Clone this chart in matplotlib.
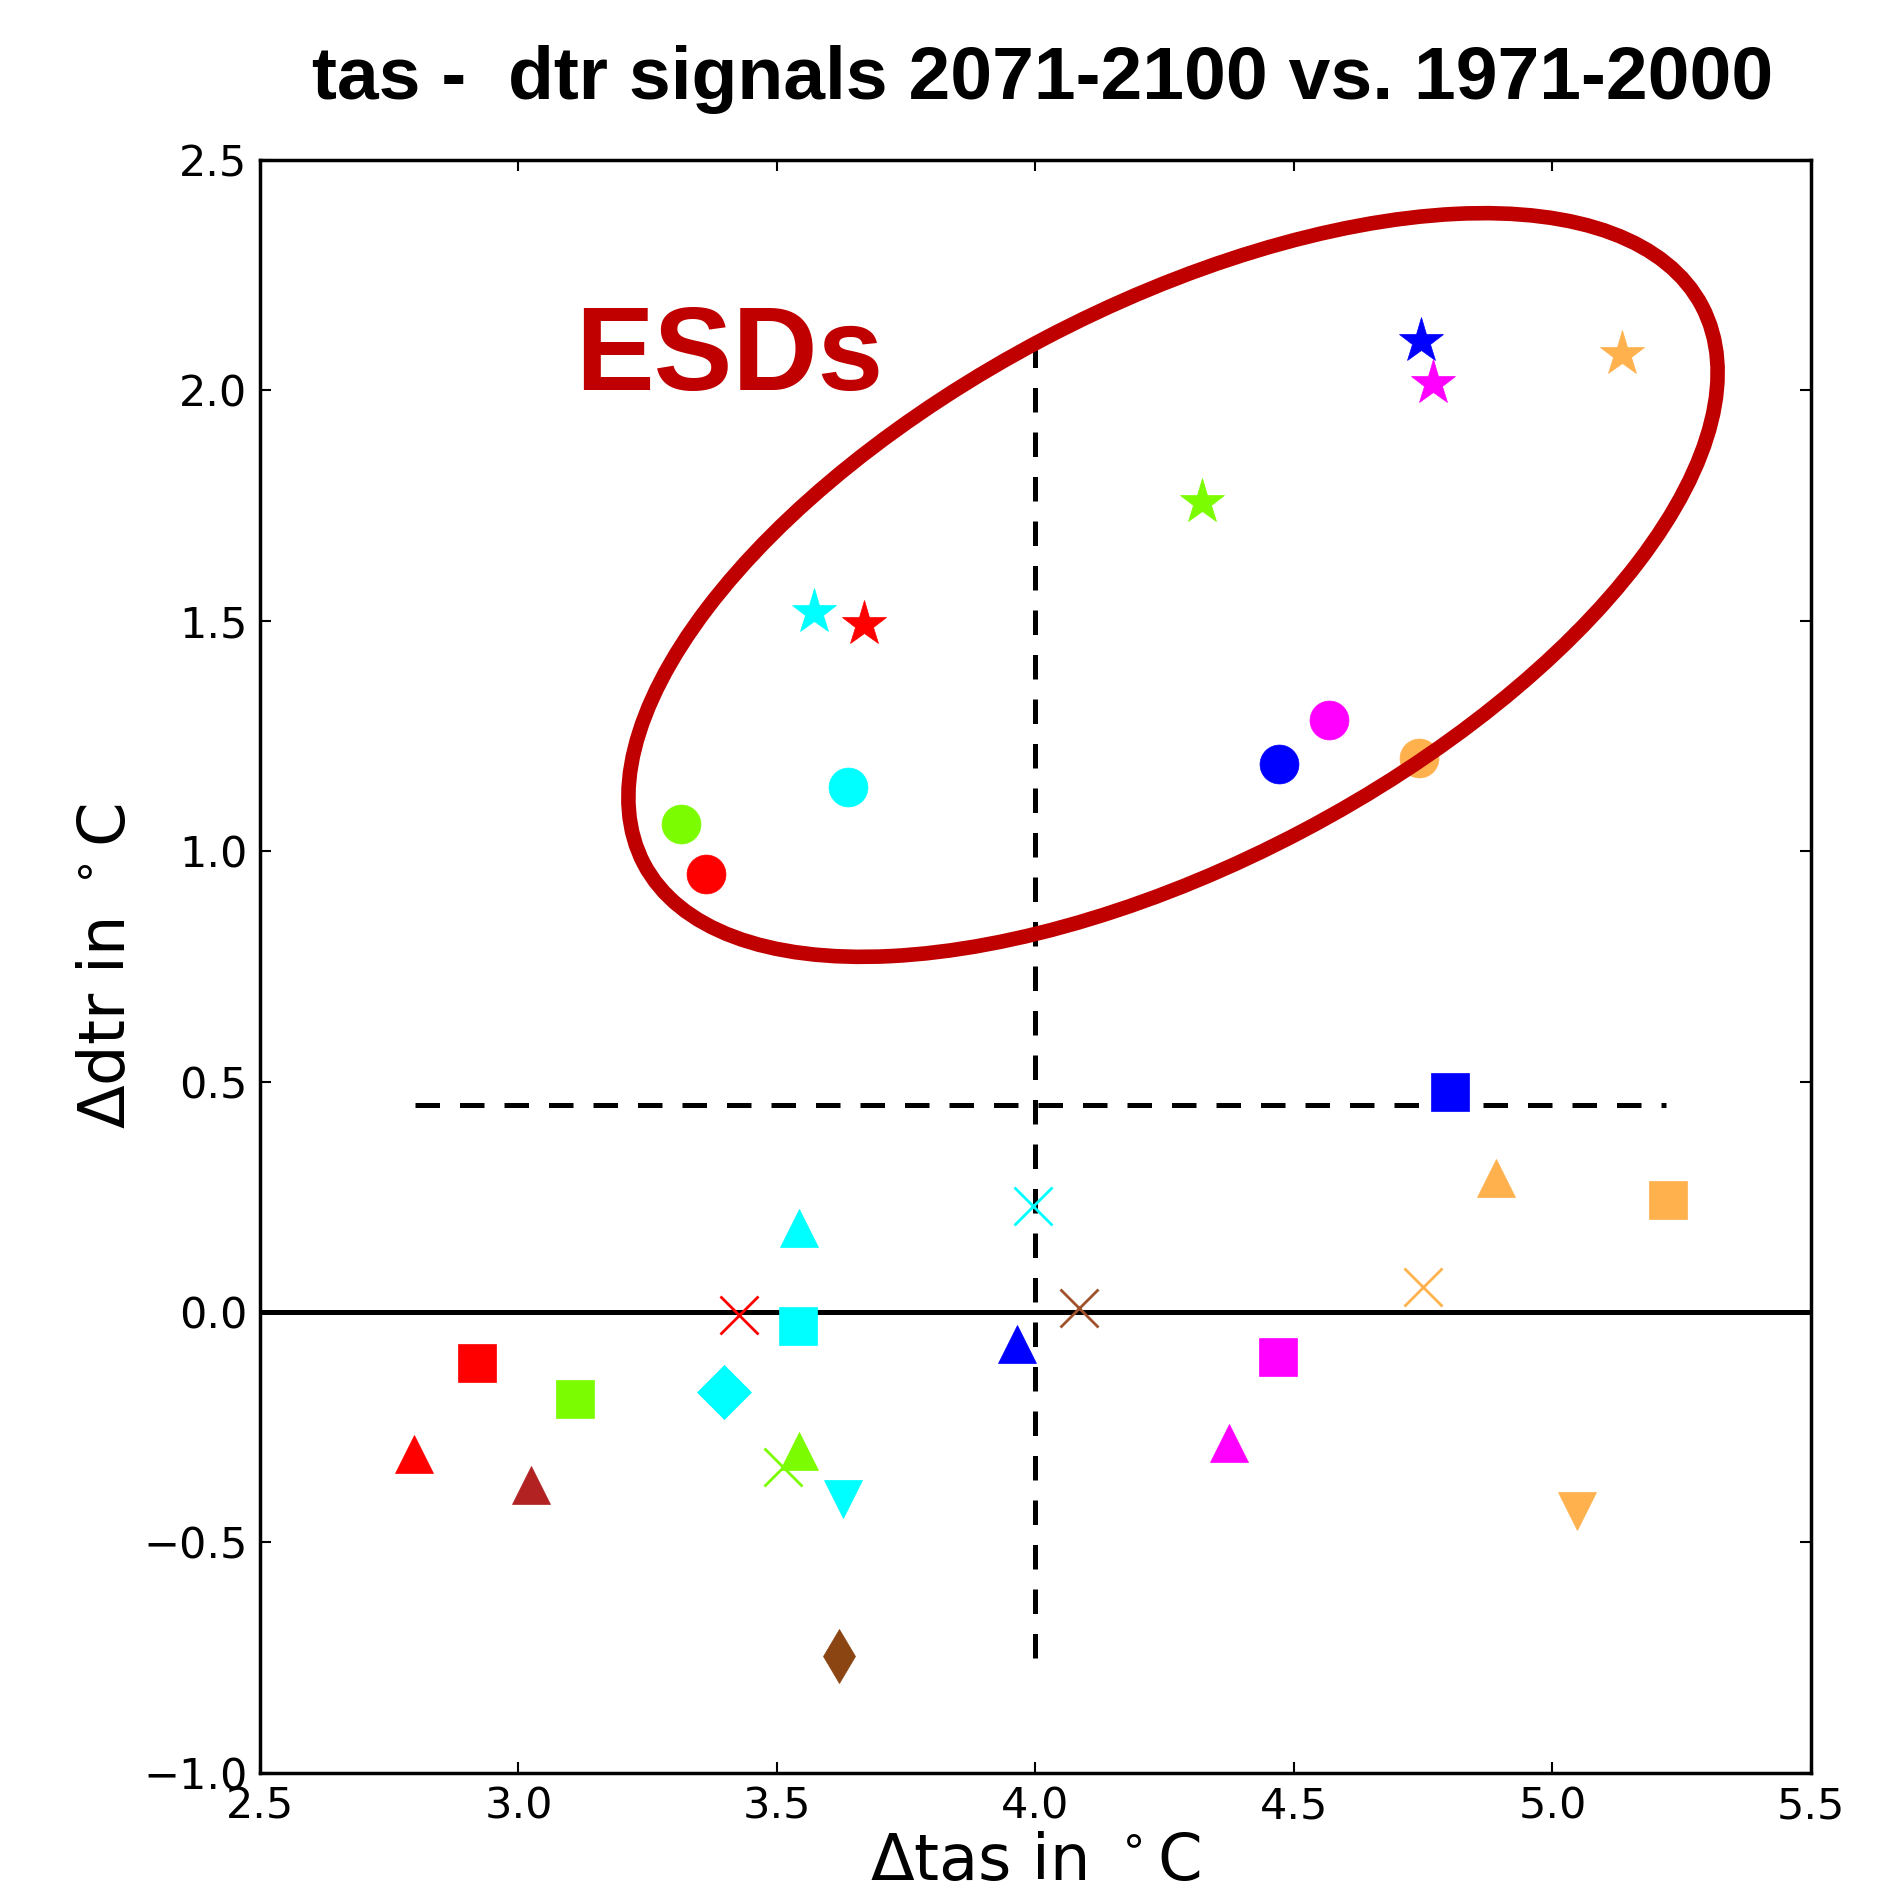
import matplotlib
matplotlib.use("Agg")
import matplotlib.pyplot as plt
import numpy as np
from matplotlib.patches import Ellipse
from matplotlib.transforms import IdentityTransform

# values (delta tas, delta dtr) per model run
tas = [3.572, 3.668, 4.322, 4.746, 4.768, 5.134,          # stars (ESD)
       3.314, 3.363, 3.638, 4.471, 4.568, 4.742,          # circles (ESD)
       2.919, 3.109, 3.540, 4.469, 4.801, 5.224,          # squares
       2.798, 3.025, 3.542, 3.542, 3.965, 4.375, 4.891,   # triangles up
       3.627, 5.048,                                      # triangles down
       3.397, 3.620,                                      # diamonds
       3.427, 3.512, 3.996, 4.085, 4.750]                 # crosses
dtr = [1.519, 1.494, 1.757, 2.107, 2.016, 2.080,
       1.059, 0.951, 1.139, 1.189, 1.285, 1.202,
       -0.110, -0.190, -0.030, -0.098, 0.477, 0.244,
       -0.308, -0.376, 0.183, -0.302, -0.070, -0.284, 0.291,
       -0.405, -0.433,
       -0.173, -0.747,
       -0.006, -0.337, 0.229, 0.009, 0.054]
markers = ["*"] * 6 + ["o"] * 6 + ["s"] * 6 + ["^"] * 7 + ["v"] * 2 + ["D", "d"] + ["x"] * 5
colors = ["#00ffff", "#ff0000", "#7cfc00", "#0000ff", "#ff00ff", "#ffb14e",
          "#7cfc00", "#ff0000", "#00ffff", "#0000ff", "#ff00ff", "#ffb14e",
          "#ff0000", "#7cfc00", "#00ffff", "#ff00ff", "#0000ff", "#ffb14e",
          "#ff0000", "#b22222", "#00ffff", "#7cfc00", "#0000ff", "#ff00ff", "#ffb14e",
          "#00ffff", "#ffb14e",
          "#00ffff", "#8b4513",
          "#ff0000", "#7cfc00", "#00ffff", "#a0522d", "#ffb14e"]

# reference lines
tas_ref = 4.0
tas_ref_span = [-0.75, 2.1]
dtr_ref = 0.45
dtr_ref_span = [2.8, 5.22]

W, H = 1897, 1892
fig = plt.figure(figsize=(W / 100, H / 100), dpi=100)
ax = fig.add_axes([260 / W, 1 - 1772.7 / H, (1811 - 260) / W, (1772.7 - 160) / H])

ax.axhline(0.0, color="black", lw=3.6, zorder=1)
ax.plot([tas_ref, tas_ref], tas_ref_span, color="black", lw=3.6,
        linestyle=(0, (4.9, 4.0)), zorder=1)
ax.plot(dtr_ref_span, [dtr_ref, dtr_ref], color="black", lw=3.6,
        linestyle=(0, (4.9, 4.0)), zorder=1)

for x, y, m, c in zip(tas, dtr, markers, colors):
    if m == "x":
        ax.plot(x, y, m, color=c, ms=28, mew=2.0, zorder=3)
    elif m == "*":
        ax.plot(x, y, m, color=c, ms=34, mew=0.5, mec=c, zorder=3)
    else:
        ax.plot(x, y, m, color=c, ms=28, mew=0.5, mec=c, zorder=3)

ax.set_xlim(2.5, 5.5)
ax.set_ylim(-1.0, 2.5)
ax.set_xticks(np.arange(2.5, 5.51, 0.5))
ax.set_yticks(np.arange(-1.0, 2.51, 0.5))
ax.tick_params(direction="in", length=8, width=1.5, top=True, right=True,
               labelsize=31, pad=9)
for s in ax.spines.values():
    s.set_linewidth(2.5)

ax.set_xlabel(r"$\Delta$tas in $^\circ$C", fontsize=46, labelpad=3)
ax.set_ylabel(r"$\Delta$dtr in $^\circ$C", fontsize=46, labelpad=4)

fig.text(1043 / W, 1 - 99.3 / H, "tas -  dtr signals 2071-2100 vs. 1971-2000",
         family="Liberation Sans", weight="bold", fontsize=54,
         ha="center", va="baseline")

# hand-drawn ESD highlight
fig.add_artist(Ellipse((1173, H - 585), 1196, 556, angle=27.8, fill=False,
                       edgecolor="#c00000", lw=10.5, transform=IdentityTransform(),
                       zorder=10))
fig.text(575 / W, 1 - 390 / H, "ESDs", family="Liberation Sans", weight="bold",
         fontsize=85, color="#c00000", ha="left", va="baseline")

fig.savefig("out.png", dpi=100, facecolor="white")
